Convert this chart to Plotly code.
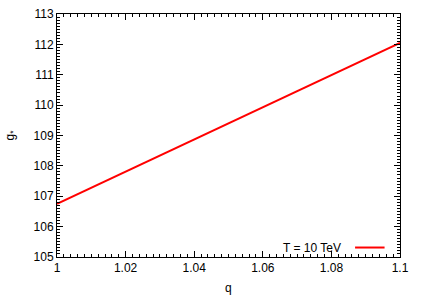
import plotly.graph_objects as go

q = [1.0, 1.1]
g_star = [106.75, 112.05]
series_name = "T = 10 TeV"
x_ticks = [1.0, 1.02, 1.04, 1.06, 1.08, 1.1]
x_ticklabels = ["1", "1.02", "1.04", "1.06", "1.08", "1.1"]
y_ticks = [105, 106, 107, 108, 109, 110, 111, 112, 113]

FONT = "Liberation Sans, Arial"

fig = go.Figure()
fig.add_trace(go.Scatter(x=q, y=g_star, mode="lines", name=series_name,
                         line=dict(color="#ff0000", width=2), showlegend=False,
                         hoverinfo="skip"))

axis_common = dict(showline=True, linecolor="black", linewidth=1, mirror="allticks",
                   ticks="inside", ticklen=6, tickcolor="black", showgrid=False,
                   zeroline=False, automargin=False,
                   tickfont=dict(family=FONT, size=12, color="black"))

fig.update_xaxes(range=[1.0, 1.1], tickvals=x_ticks, ticktext=x_ticklabels,
                 minor=dict(dtick=0.002, ticks="inside", ticklen=3, tickcolor="black", showgrid=False),
                 **axis_common)
fig.update_yaxes(range=[105, 113], tickvals=y_ticks,
                 minor=dict(dtick=0.1, ticks="inside", ticklen=3, tickcolor="black", showgrid=False),
                 **axis_common)

fig.add_annotation(xref="paper", yref="paper", x=0.5, y=-0.128, xanchor="center", yanchor="middle",
                   text="q", showarrow=False, font=dict(family=FONT, size=12, color="black"))
fig.add_annotation(xref="paper", yref="paper", x=-0.137, y=0.5, xanchor="center", yanchor="middle",
                   text="g<sub>*</sub>", textangle=-90, showarrow=False,
                   font=dict(family=FONT, size=12, color="black"))

fig.add_annotation(xref="paper", yref="paper", x=0.835, y=0.039, xanchor="right", yanchor="middle",
                   text=series_name, showarrow=False,
                   font=dict(family=FONT, size=12, color="black"))
fig.add_shape(type="line", xref="paper", yref="paper", x0=0.869, x1=0.955, y0=0.039, y1=0.039,
              line=dict(color="#ff0000", width=2))

fig.update_layout(width=421, height=295, margin=dict(l=57, r=21, t=14, b=38),
                  plot_bgcolor="white", paper_bgcolor="white")
fig.write_html("out.html", config={"displayModeBar": False},
               post_script="document.body.style.margin='0';document.body.style.overflow='hidden';")
